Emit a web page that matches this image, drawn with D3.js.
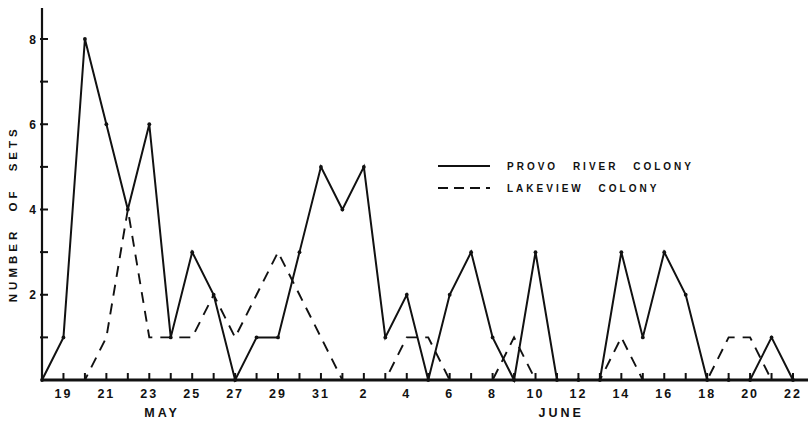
<!DOCTYPE html>
<html>
<head>
<meta charset="utf-8">
<script src="https://cdn.jsdelivr.net/npm/d3@7"></script>
<style>
  body { margin: 0; background: #fff; }
  svg { display: block; }
  text { font-family: "Liberation Sans", Arial, sans-serif; font-weight: bold; fill: #111; }
</style>
</head>
<body>
<div id="chart"></div>
<script>
// days from May 18 to June 22
const dates = [];
for (let d = 18; d <= 31; d++) dates.push({ month: "MAY", day: d });
for (let d = 1; d <= 22; d++) dates.push({ month: "JUNE", day: d });

const provoRiver = [0, 1, 8, 6, 4, 6, 1, 3, 2, 0, 1, 1, 3, 5, 4, 5, 1, 2, 0, 2, 3, 1, 0, 3, 0, 0, 0, 3, 1, 3, 2, 0, 0, 0, 1, 0];
const lakeview = [0, 0, 0, 1, 4, 1, 1, 1, 2, 1, 2, 3, 2, 1, 0, 0, 0, 1, 1, 0, 0, 0, 1, 0, 0, 0, 0, 1, 0, 0, 0, 0, 1, 1, 0, 0];

const yTicks = [1, 2, 3, 4, 5, 6, 7, 8];
const yLabels = [2, 4, 6, 8];
const monthLabels = [{ text: "MAY", index: 5.6 }, { text: "JUNE", index: 24.2 }];
const seriesNames = ["PROVO RIVER COLONY", "LAKEVIEW COLONY"];

const width = 812, height = 421;
const margin = { left: 42, right: 19, top: 8, bottom: 41 };

const svg = d3.select("#chart").append("svg")
    .attr("width", width)
    .attr("height", height);

const x = d3.scaleLinear()
    .domain([0, dates.length - 1])
    .range([margin.left, width - margin.right]);

const y = d3.scaleLinear()
    .domain([0, 8])
    .range([height - margin.bottom, 39]);

// y axis
svg.append("line")
    .attr("x1", margin.left).attr("x2", margin.left)
    .attr("y1", margin.top).attr("y2", y(0))
    .attr("stroke", "#111").attr("stroke-width", 2.2);

svg.selectAll(".ytick").data(yTicks).enter().append("line")
    .attr("class", "ytick")
    .attr("x1", margin.left - 2).attr("x2", margin.left + 6)
    .attr("y1", d => y(d)).attr("y2", d => y(d))
    .attr("stroke", "#111").attr("stroke-width", 2);

svg.selectAll(".ylabel").data(yLabels).enter().append("text")
    .attr("class", "ylabel")
    .attr("x", margin.left - 6)
    .attr("y", d => y(d) + 4.5)
    .attr("text-anchor", "end")
    .style("font-size", "12px")
    .text(d => d);

svg.append("text")
    .attr("transform", `translate(17,${y(3.9)}) rotate(-90)`)
    .attr("text-anchor", "middle")
    .style("font-size", "11.5px")
    .style("letter-spacing", "4px")
    .style("word-spacing", "9px")
    .text("NUMBER OF SETS");

// x axis
svg.append("line")
    .attr("x1", margin.left - 1).attr("x2", width - 4)
    .attr("y1", y(0)).attr("y2", y(0))
    .attr("stroke", "#111").attr("stroke-width", 2.8);

svg.selectAll(".xtick").data(dates).enter().append("line")
    .attr("class", "xtick")
    .attr("x1", (d, i) => x(i)).attr("x2", (d, i) => x(i))
    .attr("y1", y(0)).attr("y2", y(0) - 7)
    .attr("stroke", "#111").attr("stroke-width", 2);

svg.selectAll(".xlabel").data(dates.filter((d, i) => i % 2 === 1)).enter().append("text")
    .attr("class", "xlabel")
    .attr("x", d => x(dates.indexOf(d)))
    .attr("y", y(0) + 18)
    .attr("text-anchor", "middle")
    .style("font-size", "12.5px")
    .style("letter-spacing", "2px")
    .text(d => d.day);

svg.selectAll(".month").data(monthLabels).enter().append("text")
    .attr("class", "month")
    .attr("x", d => x(d.index))
    .attr("y", y(0) + 37)
    .attr("text-anchor", "middle")
    .style("font-size", "12.5px")
    .style("letter-spacing", "3px")
    .text(d => d.text);

// series
const line = d3.line()
    .x((d, i) => x(i))
    .y(d => y(d));

svg.append("path")
    .datum(lakeview)
    .attr("d", line)
    .attr("fill", "none")
    .attr("stroke", "#111")
    .attr("stroke-width", 1.9)
    .attr("stroke-dasharray", "11,8");

svg.append("path")
    .datum(provoRiver)
    .attr("d", line)
    .attr("fill", "none")
    .attr("stroke", "#111")
    .attr("stroke-width", 2)
    .attr("stroke-linejoin", "miter");

svg.selectAll(".pdot").data(provoRiver).enter().append("circle")
    .attr("class", "pdot")
    .attr("cx", (d, i) => x(i))
    .attr("cy", d => y(d))
    .attr("r", 1.9)
    .attr("fill", "#111");

// legend
const legend = svg.append("g");
seriesNames.forEach((name, i) => {
    const ly = 166 + i * 22;
    legend.append("line")
        .attr("x1", 438).attr("x2", 490)
        .attr("y1", ly).attr("y2", ly)
        .attr("stroke", "#111").attr("stroke-width", 2)
        .attr("stroke-dasharray", i === 0 ? null : "10,6");
    legend.append("text")
        .attr("x", 507)
        .attr("y", ly + 4)
        .style("font-size", "10px")
        .style("letter-spacing", "3px")
        .style("word-spacing", "9px")
        .text(name);
});
</script>
</body>
</html>
